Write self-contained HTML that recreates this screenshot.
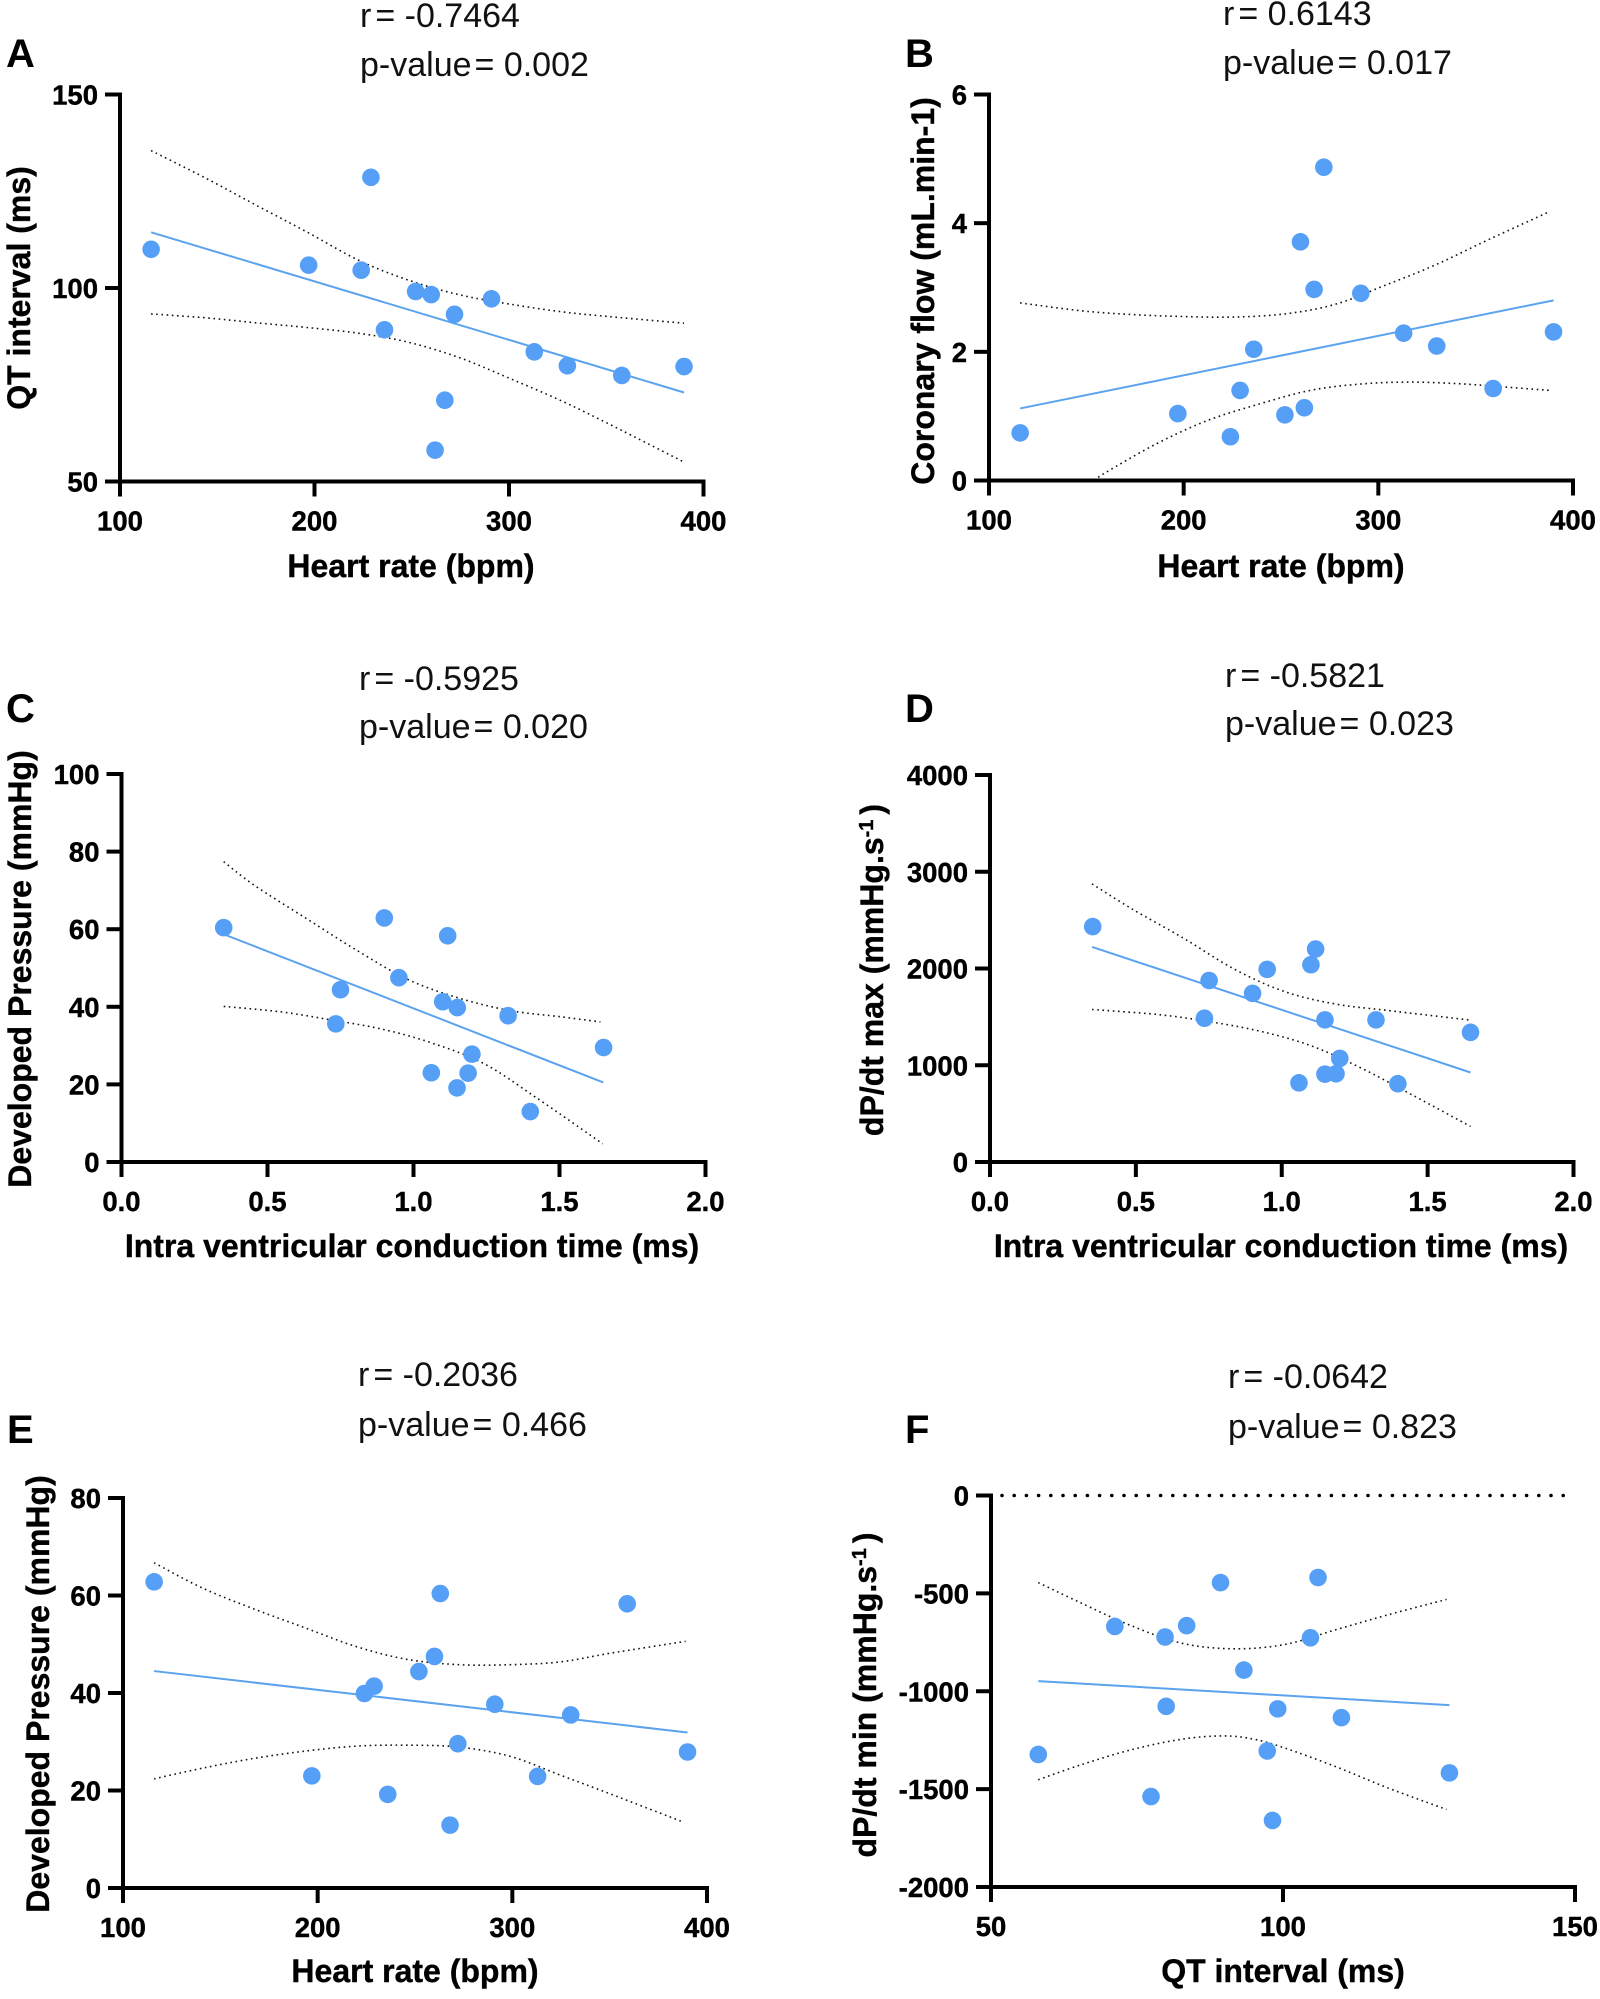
<!DOCTYPE html>
<html lang="en">
<head>
<meta charset="utf-8">
<title>Correlation scatter panels</title>
<style>
html,body{margin:0;padding:0;background:#fff;width:1600px;height:1999px;overflow:hidden}
svg{display:block}
text{font-family:"Liberation Sans",Arial,sans-serif;fill:#000}
.tick{font-size:27.5px;font-weight:700;stroke:#000;stroke-width:.4}
.title{font-size:32px;font-weight:700;stroke:#000;stroke-width:.4}
.stat{font-size:34px;font-weight:400;fill:#111}
.letter{font-size:40px;font-weight:700}
</style>
</head>
<body>
<svg id="figure" width="1600" height="1999" viewBox="0 0 1600 1999" xmlns="http://www.w3.org/2000/svg">
  <g id="panel-a">
    <text class="letter" x="6" y="67">A</text>
    <text class="stat" x="360" y="27">r<tspan dx="4">= -0.7464</tspan></text>
    <text class="stat" x="360" y="76">p-value<tspan dx="3">= 0.002</tspan></text>
    <text class="title" x="411" y="577" text-anchor="middle">Heart rate (bpm)</text>
    <text class="title" transform="translate(30,288) rotate(-90)" text-anchor="middle">QT interval (ms)</text>
  </g>
  <g id="panel-b">
    <text class="letter" x="905" y="67">B</text>
    <text class="stat" x="1223" y="25">r<tspan dx="4">= 0.6143</tspan></text>
    <text class="stat" x="1223" y="74">p-value<tspan dx="3">= 0.017</tspan></text>
    <text class="title" x="1281" y="577" text-anchor="middle">Heart rate (bpm)</text>
    <text class="title" transform="translate(934,291) rotate(-90)" text-anchor="middle">Coronary flow (mL.min-1)</text>
  </g>
  <g id="panel-c">
    <text class="letter" x="6" y="722">C</text>
    <text class="stat" x="359" y="690">r<tspan dx="4">= -0.5925</tspan></text>
    <text class="stat" x="359" y="738">p-value<tspan dx="3">= 0.020</tspan></text>
    <text class="title" x="412" y="1257" text-anchor="middle">Intra ventricular conduction time (ms)</text>
    <text class="title" transform="translate(31,969) rotate(-90)" text-anchor="middle">Developed Pressure (mmHg)</text>
  </g>
  <g id="panel-d">
    <text class="letter" x="905" y="722">D</text>
    <text class="stat" x="1225" y="687">r<tspan dx="4">= -0.5821</tspan></text>
    <text class="stat" x="1225" y="735">p-value<tspan dx="3">= 0.023</tspan></text>
    <text class="title" x="1281" y="1257" text-anchor="middle">Intra ventricular conduction time (ms)</text>
    <text class="title" transform="translate(883,970) rotate(-90)" text-anchor="middle">dP/dt max (mmHg.s<tspan dy="-10" font-size="20">-1</tspan><tspan dy="10" dx="5">)</tspan></text>
  </g>
  <g id="panel-e">
    <text class="letter" x="7" y="1443">E</text>
    <text class="stat" x="358" y="1386">r<tspan dx="4">= -0.2036</tspan></text>
    <text class="stat" x="358" y="1436">p-value<tspan dx="3">= 0.466</tspan></text>
    <text class="title" x="415" y="1982" text-anchor="middle">Heart rate (bpm)</text>
    <text class="title" transform="translate(49,1694) rotate(-90)" text-anchor="middle">Developed Pressure (mmHg)</text>
  </g>
  <g id="panel-f">
    <text class="letter" x="905" y="1443">F</text>
    <text class="stat" x="1228" y="1388">r<tspan dx="4">= -0.0642</tspan></text>
    <text class="stat" x="1228" y="1438">p-value<tspan dx="3">= 0.823</tspan></text>
    <text class="title" x="1283" y="1982" text-anchor="middle">QT interval (ms)</text>
    <text class="title" transform="translate(876,1695) rotate(-90)" text-anchor="middle">dP/dt min (mmHg.s<tspan dy="-10" font-size="20">-1</tspan><tspan dy="10" dx="5">)</tspan></text>
  </g>
</svg>
<script>
// Panel A
const aPointsX = [116,197,224,229,236,252,260,262,267,272,291,313,330,358,390];
const aPointsY = [110,105.9,104.6,128.6,89.2,99.1,98.3,58.1,71,93.2,97.2,83.5,79.9,77.4,79.7];
const aFitX = [116,390];
const aFitY = [114.4,73];
const aUpperX = [116,144,170,196,223,249,275,301,328,354,390];
const aUpperY = [135.5,128.4,121.4,114.5,107.1,101.9,98.2,95.8,93.8,92.5,90.9];
const aLowerX = [116,144,170,196,223,249,275,301,328,354,390];
const aLowerY = [93.3,92.3,91,89.8,88.3,85.9,81.9,76.5,70.6,64.2,55];
const aTicksX = ["100","200","300","400"];
const aTicksY = ["50","100","150"];

// Panel B
const bPointsX = [116,197,224,229,236,252,260,262,267,272,291,313,330,359,390];
const bPointsY = [0.74,1.04,0.68,1.4,2.04,1.02,3.71,1.13,2.97,4.87,2.91,2.29,2.09,1.43,2.31];
const bFitX = [116,390];
const bFitY = [1.12,2.8];
const bUpperX = [116,147,173,199,225,252,278,304,330,357,388];
const bUpperY = [2.76,2.64,2.58,2.55,2.54,2.59,2.74,3.04,3.36,3.75,4.18];
const bLowerX = [154,160,186,212,239,265,291,317,344,362,388];
const bLowerY = [0,0.125,0.57,0.93,1.19,1.4,1.5,1.53,1.5,1.46,1.4];
const bTicksX = ["100","200","300","400"];
const bTicksY = ["0","2","4","6"];

// Panel C
const cPointsX = [0.35,0.9,1.117,0.95,0.75,1.1,1.15,1.324,0.734,1.651,1.2,1.061,1.187,1.149,1.4];
const cPointsY = [60.4,62.9,58.3,47.5,44.4,41.3,39.8,37.7,35.6,29.5,27.8,23,22.9,19.1,13];
const cFitX = [0.35,1.65];
const cFitY = [58.7,20.5];
const cUpperX = [0.35,0.457,0.632,0.807,0.982,1.158,1.333,1.508,1.64];
const cUpperY = [77.4,71.2,62.8,54.5,47,42.2,39,37.4,36.1];
const cLowerX = [0.35,0.545,0.72,0.895,1.07,1.245,1.42,1.648];
const cLowerY = [40.1,38.7,36.6,34.2,30.5,25.2,16.6,4.7];
const cTicksX = ["0.0","0.5","1.0","1.5","2.0"];
const cTicksY = ["0","20","40","60","80","100"];

// Panel D
const dPointsX = [0.352,0.751,0.9,0.95,1.1,1.116,0.735,1.148,1.323,1.647,1.199,1.148,1.186,1.059,1.398];
const dPointsY = [2433,1876,1743,1991,2039,2201,1486,1469,1469,1340,1071,908,912,818,809];
const dFitX = [0.35,1.647];
const dFitY = [2223,925];
const dUpperX = [0.35,0.486,0.661,0.836,1.011,1.186,1.361,1.641];
const dUpperY = [2874,2617,2317,1996,1760,1632,1567,1469];
const dLowerX = [0.35,0.574,0.749,0.924,1.099,1.274,1.449,1.647];
const dLowerY = [1576,1525,1452,1353,1203,968,690,368];
const dTicksX = ["0.0","0.5","1.0","1.5","2.0"];
const dTicksY = ["0","1000","2000","3000","4000"];

// Panel E
const ePointsX = [116,197,224,229,236,252,260,263,268,272,291,313,330,359,390];
const ePointsY = [62.8,23,39.9,41.4,19.2,44.4,47.5,60.4,12.9,29.6,37.7,22.9,35.5,58.3,27.9];
const eFitX = [116,390];
const eFitY = [44.5,31.9];
const eUpperX = [116,141,167.5,194,220,246,272.6,299,325,351,389];
const eUpperY = [66.7,61.5,57.2,53.3,49.5,46.9,45.8,45.8,46.4,48.2,50.6];
const eLowerX = [116,141,167.5,194,220,246,272.6,299,325,351,388];
const eLowerY = [22.4,24.6,26.6,28.1,29.1,29.3,28.9,27,23.1,19.2,13.5];
const eTicksX = ["100","200","300","400"];
const eTicksY = ["0","20","40","60","80"];

// Panel F
const fPointsX = [58.1,71.2,77.4,79.8,80,83.5,89.3,93.3,97.3,98.2,99.1,104.7,106,110,128.5];
const fPointsY = [-1323,-669,-1538,-723,-1077,-665,-445,-892,-1305,-1660,-1090,-727,-419,-1135,-1417];
const fFitX = [58.1,128.5];
const fFitY = [-948,-1071];
const fUpperX = [58.1,65.2,74,82.7,91.5,100.3,109,117.8,128];
const fUpperY = [-445,-546,-665,-755,-783,-761,-686,-611,-531];
const fLowerX = [58.1,65.2,74,82.7,89.8,95,100.3,109,117.8,128];
const fLowerY = [-1452,-1378,-1299,-1245,-1228,-1245,-1290,-1385,-1492,-1604];
const fTicksX = ["50","100","150"];
const fTicksY = ["-2000","-1500","-1000","-500","0"];
const fReferenceY = [0];

const SVGNS = 'http://www.w3.org/2000/svg';

function make(tag, parent, attrs) {
  const el = document.createElementNS(SVGNS, tag);
  for (const k in attrs) el.setAttribute(k, attrs[k]);
  parent.appendChild(el);
  return el;
}

function curvePath(xs, ys, sx, sy) {
  const p = xs.map(function (v, i) { return [sx(v), sy(ys[i])]; });
  let d = 'M' + p[0][0].toFixed(1) + ' ' + p[0][1].toFixed(1);
  for (let i = 0; i < p.length - 1; i++) {
    const a = p[Math.max(i - 1, 0)], b = p[i], c = p[i + 1], e = p[Math.min(i + 2, p.length - 1)];
    d += 'C' + (b[0] + (c[0] - a[0]) / 6).toFixed(1) + ' ' + (b[1] + (c[1] - a[1]) / 6).toFixed(1) +
      ' ' + (c[0] - (e[0] - b[0]) / 6).toFixed(1) + ' ' + (c[1] - (e[1] - b[1]) / 6).toFixed(1) +
      ' ' + c[0].toFixed(1) + ' ' + c[1].toFixed(1);
  }
  return d;
}

function drawPanel(id, frame, px, py, fx, fy, ux, uy, lx, ly, tx, ty, refY) {
  const g = document.getElementById('panel-' + id);
  const xMin = parseFloat(tx[0]), xMax = parseFloat(tx[tx.length - 1]);
  const yMin = parseFloat(ty[0]), yMax = parseFloat(ty[ty.length - 1]);
  const sx = function (v) { return frame.left + (v - xMin) / (xMax - xMin) * (frame.right - frame.left); };
  const sy = function (v) { return frame.bottom - (v - yMin) / (yMax - yMin) * (frame.bottom - frame.top); };

  const upper = make('path', g, { d: curvePath(ux, uy, sx, sy), fill: 'none', stroke: '#111', 'stroke-width': 1.6, 'stroke-dasharray': '1.6 3.6' });
  
  
  const lower = make('path', g, { d: curvePath(lx, ly, sx, sy), fill: 'none', stroke: '#111', 'stroke-width': 1.6, 'stroke-dasharray': '1.6 3.6' });
  
  

  const fit = make('line', g, { x1: sx(fx[0]), y1: sy(fy[0]), x2: sx(fx[1]), y2: sy(fy[1]), stroke: '#5ba3ee', 'stroke-width': 2 });
  
  

  if (refY) {
    refY.forEach(function (v) {
      const ref = make('line', g, { x1: frame.left + 11, y1: sy(v), x2: frame.right - 10, y2: sy(v), stroke: '#000', 'stroke-width': 3.6, 'stroke-linecap': 'round', 'stroke-dasharray': '0 12.2' });
      
      
    });
  }

  px.forEach(function (v, i) {
    const dot = make('circle', g, { cx: sx(v), cy: sy(py[i]), r: 8.8, fill: '#559ff7' });
    
    
  });

  const yAxis = make('line', g, { x1: frame.left, y1: frame.top - 2, x2: frame.left, y2: frame.bottom + 15, stroke: '#000', 'stroke-width': 4 });
  
  
  const xAxis = make('line', g, { x1: frame.left - 15, y1: frame.bottom, x2: frame.right + 2, y2: frame.bottom, stroke: '#000', 'stroke-width': 4 });
  
  

  tx.forEach(function (label) {
    const x = sx(parseFloat(label));
    const mark = make('line', g, { x1: x, y1: frame.bottom, x2: x, y2: frame.bottom + 15, stroke: '#000', 'stroke-width': 4 });
    
    
    const text = make('text', g, { class: 'tick', x: x, y: frame.bottom + 49, 'text-anchor': 'middle' });
    text.textContent = label;
    
    
  });

  ty.forEach(function (label) {
    const y = sy(parseFloat(label));
    const mark = make('line', g, { x1: frame.left - 15, y1: y, x2: frame.left, y2: y, stroke: '#000', 'stroke-width': 4 });
    
    
    const text = make('text', g, { class: 'tick', x: frame.left - 22, y: y + 10, 'text-anchor': 'end' });
    text.textContent = label;
    
    
  });
}

drawPanel('a', { left: 120, right: 703.5, top: 94.5, bottom: 481.5 }, aPointsX, aPointsY, aFitX, aFitY, aUpperX, aUpperY, aLowerX, aLowerY, aTicksX, aTicksY);
drawPanel('b', { left: 989, right: 1573, top: 94.5, bottom: 480.5 }, bPointsX, bPointsY, bFitX, bFitY, bUpperX, bUpperY, bLowerX, bLowerY, bTicksX, bTicksY);
drawPanel('c', { left: 121.5, right: 705.5, top: 774, bottom: 1162 }, cPointsX, cPointsY, cFitX, cFitY, cUpperX, cUpperY, cLowerX, cLowerY, cTicksX, cTicksY);
drawPanel('d', { left: 990, right: 1573.5, top: 775, bottom: 1162 }, dPointsX, dPointsY, dFitX, dFitY, dUpperX, dUpperY, dLowerX, dLowerY, dTicksX, dTicksY);
drawPanel('e', { left: 123, right: 707, top: 1498, bottom: 1888 }, ePointsX, ePointsY, eFitX, eFitY, eUpperX, eUpperY, eLowerX, eLowerY, eTicksX, eTicksY);
drawPanel('f', { left: 991, right: 1575, top: 1495.5, bottom: 1887 }, fPointsX, fPointsY, fFitX, fFitY, fUpperX, fUpperY, fLowerX, fLowerY, fTicksX, fTicksY, fReferenceY);
</script>
</body>
</html>
